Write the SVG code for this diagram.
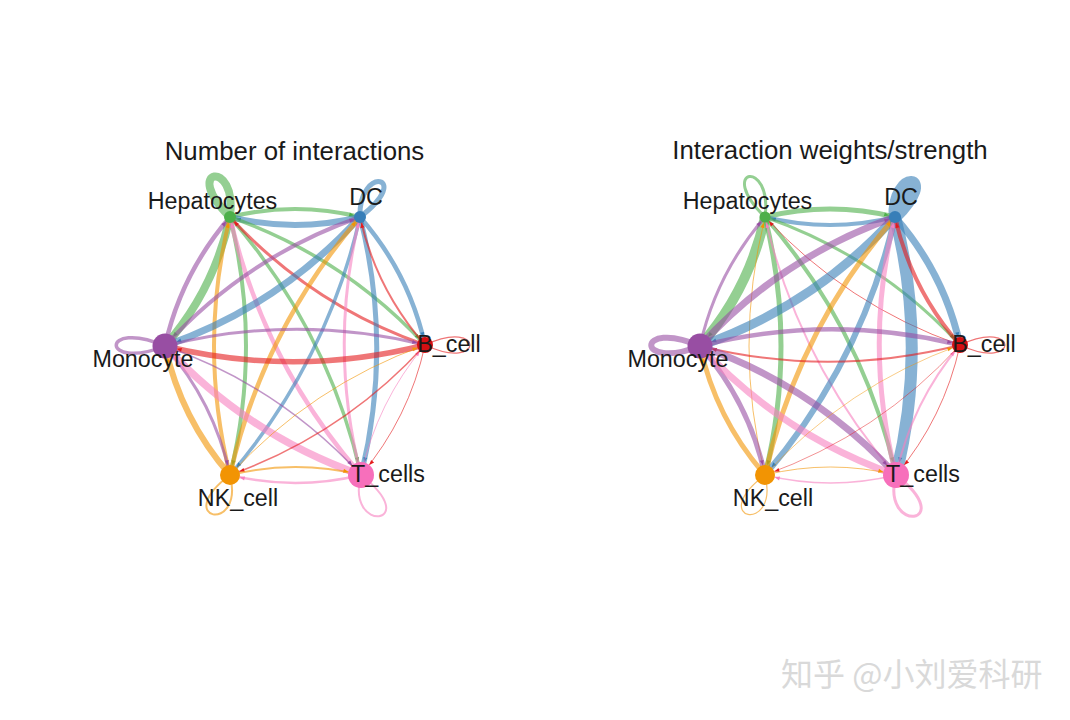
<svg xmlns="http://www.w3.org/2000/svg" width="1070" height="720" viewBox="0 0 1070 720">
<style>
text{font-family:"Liberation Sans",Arial,sans-serif;fill:#1a1a1a}
.t{font-size:25.800px;text-anchor:middle}
.l{font-size:23.300px;text-anchor:middle}
.wm{font-family:"Noto Sans CJK SC","Noto Sans",sans-serif;font-size:32px;fill:#d9d9d9}
path.e{fill:none;stroke-opacity:.6;stroke-linecap:butt}
.g{stroke:#4DAF4A}.b{stroke:#377EB8}.r{stroke:#E41A1C}.o{stroke:#F29403}.p{stroke:#F781BF}.m{stroke:#984EA3}
marker{overflow:visible}
.fg{fill:#4DAF4A}.fb{fill:#377EB8}.fr{fill:#E41A1C}.fo{fill:#F29403}.fp{fill:#F781BF}.fm{fill:#984EA3}
</style>
<defs>
<path id="ah" d="M-5,-2L0,0L-5,2Z"/>
<marker id="g6" orient="auto" markerUnits="userSpaceOnUse" markerWidth="1" markerHeight="1" refX="6" refY="0"><use href="#ah" class="fg"/></marker>
<marker id="b6" orient="auto" markerUnits="userSpaceOnUse" markerWidth="1" markerHeight="1" refX="6" refY="0"><use href="#ah" class="fb"/></marker>
<marker id="r6" orient="auto" markerUnits="userSpaceOnUse" markerWidth="1" markerHeight="1" refX="6" refY="0"><use href="#ah" class="fr"/></marker>
<marker id="o6" orient="auto" markerUnits="userSpaceOnUse" markerWidth="1" markerHeight="1" refX="6" refY="0"><use href="#ah" class="fo"/></marker>
<marker id="p6" orient="auto" markerUnits="userSpaceOnUse" markerWidth="1" markerHeight="1" refX="6" refY="0"><use href="#ah" class="fp"/></marker>
<marker id="m6" orient="auto" markerUnits="userSpaceOnUse" markerWidth="1" markerHeight="1" refX="6" refY="0"><use href="#ah" class="fm"/></marker>
<marker id="g8" orient="auto" markerUnits="userSpaceOnUse" markerWidth="1" markerHeight="1" refX="8" refY="0"><use href="#ah" class="fg"/></marker>
<marker id="b8" orient="auto" markerUnits="userSpaceOnUse" markerWidth="1" markerHeight="1" refX="8" refY="0"><use href="#ah" class="fb"/></marker>
<marker id="o8" orient="auto" markerUnits="userSpaceOnUse" markerWidth="1" markerHeight="1" refX="8" refY="0"><use href="#ah" class="fo"/></marker>
<marker id="p8" orient="auto" markerUnits="userSpaceOnUse" markerWidth="1" markerHeight="1" refX="8" refY="0"><use href="#ah" class="fp"/></marker>
<marker id="m8" orient="auto" markerUnits="userSpaceOnUse" markerWidth="1" markerHeight="1" refX="8" refY="0"><use href="#ah" class="fm"/></marker>
<marker id="g13" orient="auto" markerUnits="userSpaceOnUse" markerWidth="1" markerHeight="1" refX="13" refY="0"><use href="#ah" class="fg"/></marker>
<marker id="b13" orient="auto" markerUnits="userSpaceOnUse" markerWidth="1" markerHeight="1" refX="13" refY="0"><use href="#ah" class="fb"/></marker>
<marker id="r13" orient="auto" markerUnits="userSpaceOnUse" markerWidth="1" markerHeight="1" refX="13" refY="0"><use href="#ah" class="fr"/></marker>
<marker id="o13" orient="auto" markerUnits="userSpaceOnUse" markerWidth="1" markerHeight="1" refX="13" refY="0"><use href="#ah" class="fo"/></marker>
<marker id="m13" orient="auto" markerUnits="userSpaceOnUse" markerWidth="1" markerHeight="1" refX="13" refY="0"><use href="#ah" class="fm"/></marker>
<marker id="g10" orient="auto" markerUnits="userSpaceOnUse" markerWidth="1" markerHeight="1" refX="10" refY="0"><use href="#ah" class="fg"/></marker>
<marker id="b10" orient="auto" markerUnits="userSpaceOnUse" markerWidth="1" markerHeight="1" refX="10" refY="0"><use href="#ah" class="fb"/></marker>
<marker id="r10" orient="auto" markerUnits="userSpaceOnUse" markerWidth="1" markerHeight="1" refX="10" refY="0"><use href="#ah" class="fr"/></marker>
<marker id="p10" orient="auto" markerUnits="userSpaceOnUse" markerWidth="1" markerHeight="1" refX="10" refY="0"><use href="#ah" class="fp"/></marker>
<marker id="m10" orient="auto" markerUnits="userSpaceOnUse" markerWidth="1" markerHeight="1" refX="10" refY="0"><use href="#ah" class="fm"/></marker>
<marker id="g12" orient="auto" markerUnits="userSpaceOnUse" markerWidth="1" markerHeight="1" refX="12" refY="0"><use href="#ah" class="fg"/></marker>
<marker id="b12" orient="auto" markerUnits="userSpaceOnUse" markerWidth="1" markerHeight="1" refX="12" refY="0"><use href="#ah" class="fb"/></marker>
<marker id="r12" orient="auto" markerUnits="userSpaceOnUse" markerWidth="1" markerHeight="1" refX="12" refY="0"><use href="#ah" class="fr"/></marker>
<marker id="o12" orient="auto" markerUnits="userSpaceOnUse" markerWidth="1" markerHeight="1" refX="12" refY="0"><use href="#ah" class="fo"/></marker>
<marker id="p12" orient="auto" markerUnits="userSpaceOnUse" markerWidth="1" markerHeight="1" refX="12" refY="0"><use href="#ah" class="fp"/></marker>
</defs>
<rect width="1070" height="720" fill="#fff"/>

<text class="t" x="294.500" y="160">Number of interactions</text>
<g id="connectors-left">
<path class="e g" stroke-width="8" d="M230,217C180,168 238,158 230,217"/>
<path class="e b" stroke-width="5" d="M360,217C358,165 415,175 360,217"/>
<path class="e m" stroke-width="3.500" d="M165,346C100,318 100,372 165,346"/>
<path class="e r" stroke-width="1.200" d="M425,345C485,317 485,373 425,345"/>
<path class="e p" stroke-width="2" d="M361,475C345,535 425,525 361,475"/>
<path class="e o" stroke-width="2" d="M230,475C170,520 245,535 230,475"/>
<path class="e g" stroke-width="4" marker-end="url(#g6)" d="M230,217Q295,201 360,217"/>
<path class="e b" stroke-width="6" marker-end="url(#b6)" d="M360,217Q295,233 230,217"/>
<path class="e g" stroke-width="8" marker-end="url(#g12)" d="M230,217Q214,290 165,346"/>
<path class="e m" stroke-width="4.500" marker-end="url(#m6)" d="M165,346Q181,274 230,217"/>
<path class="e g" stroke-width="4" marker-end="url(#g10)" d="M230,217Q262,346 230,475"/>
<path class="e o" stroke-width="4" marker-end="url(#o6)" d="M230,475Q198,346 230,217"/>
<path class="e g" stroke-width="3.500" marker-end="url(#g13)" d="M230,217Q328,330 361,475"/>
<path class="e p" stroke-width="4.500" marker-end="url(#p6)" d="M361,475Q263,362 230,217"/>
<path class="e g" stroke-width="3.500" marker-end="url(#g8)" d="M230,217Q344,257 425,345"/>
<path class="e r" stroke-width="3" marker-end="url(#r6)" d="M425,345Q311,305 230,217"/>
<path class="e b" stroke-width="7" marker-end="url(#b12)" d="M360,217Q279,306 165,346"/>
<path class="e m" stroke-width="4" marker-end="url(#m6)" d="M165,346Q246,257 360,217"/>
<path class="e b" stroke-width="3.500" marker-end="url(#b10)" d="M360,217Q327,362 230,475"/>
<path class="e o" stroke-width="4.500" marker-end="url(#o6)" d="M230,475Q263,330 360,217"/>
<path class="e b" stroke-width="5" marker-end="url(#b13)" d="M360,217Q393,346 361,475"/>
<path class="e p" stroke-width="3" marker-end="url(#p6)" d="M361,475Q328,346 360,217"/>
<path class="e b" stroke-width="4.500" marker-end="url(#b8)" d="M360,217Q409,273 425,345"/>
<path class="e r" stroke-width="2" marker-end="url(#r6)" d="M425,345Q376,289 360,217"/>
<path class="e m" stroke-width="3" marker-end="url(#m8)" d="M165,346Q295,313 425,345"/>
<path class="e r" stroke-width="5.500" marker-end="url(#r12)" d="M425,345Q295,378 165,346"/>
<path class="e m" stroke-width="3" marker-end="url(#m10)" d="M165,346Q214,402 230,475"/>
<path class="e o" stroke-width="6" marker-end="url(#o12)" d="M230,475Q181,419 165,346"/>
<path class="e m" stroke-width="1.500" marker-end="url(#m13)" d="M165,346Q279,386 361,475"/>
<path class="e p" stroke-width="7.500" marker-end="url(#p12)" d="M361,475Q247,435 165,346"/>
<path class="e r" stroke-width="1" marker-end="url(#r13)" d="M425,345Q409,418 361,475"/>
<path class="e p" stroke-width="1" marker-end="url(#p8)" d="M361,475Q377,402 425,345"/>
<path class="e r" stroke-width="1.500" marker-end="url(#r10)" d="M425,345Q344,434 230,475"/>
<path class="e o" stroke-width="1" marker-end="url(#o8)" d="M230,475Q311,386 425,345"/>
<path class="e o" stroke-width="2" marker-end="url(#o13)" d="M230,475Q295.500,459 361,475"/>
<path class="e p" stroke-width="2.500" marker-end="url(#p10)" d="M361,475Q295.500,491 230,475"/>
</g>
<g id="Hepatocytes-left"><circle cx="230" cy="217" r="6" fill="#4DAF4A"/><text class="l" x="212.500" y="209">Hepatocytes</text></g>
<g id="DC-left"><circle cx="360" cy="217" r="6" fill="#377EB8"/><text class="l" x="366" y="205">DC</text></g>
<g id="B_cell-left"><circle cx="425" cy="345" r="8" fill="#D40F12"/><text class="l" x="449" y="352">B_cell</text></g>
<g id="T_cells-left"><circle cx="361" cy="475" r="13" fill="#F76FBB"/><text class="l" x="388" y="482">T_cells</text></g>
<g id="NK_cell-left"><circle cx="230" cy="475" r="10" fill="#F29403"/><text class="l" x="238" y="506">NK_cell</text></g>
<g id="Monocyte-left"><circle cx="165" cy="346" r="12.500" fill="#984EA3"/><text class="l" x="143" y="367">Monocyte</text></g>

<text class="t" x="830" y="159">Interaction weights/strength</text>
<g id="connectors-right" transform="translate(535,0)">
<path class="e g" stroke-width="3" d="M230,217C180,168 238,158 230,217"/>
<path class="e b" stroke-width="13" d="M360,217C358,170 405,172 360,217"/>
<path class="e m" stroke-width="6" d="M165,346C100,318 100,372 165,346"/>
<path class="e r" stroke-width="1.200" d="M425,345C485,317 485,373 425,345"/>
<path class="e p" stroke-width="3" d="M361,475C345,535 425,525 361,475"/>
<path class="e o" stroke-width="1.200" d="M230,475C170,520 245,535 230,475"/>
<path class="e g" stroke-width="5" marker-end="url(#g6)" d="M230,217Q295,201 360,217"/>
<path class="e b" stroke-width="4" marker-end="url(#b6)" d="M360,217Q295,233 230,217"/>
<path class="e g" stroke-width="10" marker-end="url(#g12)" d="M230,217Q214,290 165,346"/>
<path class="e m" stroke-width="3" marker-end="url(#m6)" d="M165,346Q181,274 230,217"/>
<path class="e g" stroke-width="5" marker-end="url(#g10)" d="M230,217Q262,346 230,475"/>
<path class="e o" stroke-width="1" marker-end="url(#o6)" d="M230,475Q198,346 230,217"/>
<path class="e g" stroke-width="4" marker-end="url(#g13)" d="M230,217Q328,330 361,475"/>
<path class="e p" stroke-width="2" marker-end="url(#p6)" d="M361,475Q263,362 230,217"/>
<path class="e g" stroke-width="3" marker-end="url(#g8)" d="M230,217Q344,257 425,345"/>
<path class="e r" stroke-width="1" marker-end="url(#r6)" d="M425,345Q311,305 230,217"/>
<path class="e b" stroke-width="9" marker-end="url(#b12)" d="M360,217Q279,306 165,346"/>
<path class="e m" stroke-width="7" marker-end="url(#m6)" d="M165,346Q246,257 360,217"/>
<path class="e b" stroke-width="6" marker-end="url(#b10)" d="M360,217Q327,362 230,475"/>
<path class="e o" stroke-width="5" marker-end="url(#o6)" d="M230,475Q263,330 360,217"/>
<path class="e b" stroke-width="12" marker-end="url(#b13)" d="M360,217Q393,346 361,475"/>
<path class="e p" stroke-width="5" marker-end="url(#p6)" d="M361,475Q328,346 360,217"/>
<path class="e b" stroke-width="7" marker-end="url(#b8)" d="M360,217Q409,273 425,345"/>
<path class="e r" stroke-width="4" marker-end="url(#r6)" d="M425,345Q376,289 360,217"/>
<path class="e m" stroke-width="4.500" marker-end="url(#m8)" d="M165,346Q295,313 425,345"/>
<path class="e r" stroke-width="2" marker-end="url(#r12)" d="M425,345Q295,378 165,346"/>
<path class="e m" stroke-width="5" marker-end="url(#m10)" d="M165,346Q214,402 230,475"/>
<path class="e o" stroke-width="5" marker-end="url(#o12)" d="M230,475Q181,419 165,346"/>
<path class="e m" stroke-width="7" marker-end="url(#m13)" d="M165,346Q279,386 361,475"/>
<path class="e p" stroke-width="7" marker-end="url(#p12)" d="M361,475Q247,435 165,346"/>
<path class="e r" stroke-width="1" marker-end="url(#r13)" d="M425,345Q409,418 361,475"/>
<path class="e p" stroke-width="2" marker-end="url(#p8)" d="M361,475Q377,402 425,345"/>
<path class="e r" stroke-width=".8" marker-end="url(#r10)" d="M425,345Q344,434 230,475"/>
<path class="e o" stroke-width=".8" marker-end="url(#o8)" d="M230,475Q311,386 425,345"/>
<path class="e o" stroke-width="1" marker-end="url(#o13)" d="M230,475Q295.500,459 361,475"/>
<path class="e p" stroke-width="1.500" marker-end="url(#p10)" d="M361,475Q295.500,491 230,475"/>
</g>
<g id="Hepatocytes-right"><circle cx="765" cy="217" r="5.500" fill="#4DAF4A"/><text class="l" x="747.500" y="209">Hepatocytes</text></g>
<g id="DC-right"><circle cx="895" cy="217" r="6" fill="#377EB8"/><text class="l" x="901" y="205">DC</text></g>
<g id="B_cell-right"><circle cx="960" cy="345" r="8" fill="#D40F12"/><text class="l" x="984" y="352">B_cell</text></g>
<g id="T_cells-right"><circle cx="896" cy="475" r="13" fill="#F76FBB"/><text class="l" x="923" y="482">T_cells</text></g>
<g id="NK_cell-right"><circle cx="765" cy="475" r="10" fill="#F29403"/><text class="l" x="773" y="506">NK_cell</text></g>
<g id="Monocyte-right"><circle cx="700" cy="346" r="12.500" fill="#984EA3"/><text class="l" x="678" y="367">Monocyte</text></g>

<text class="wm" x="781" y="686">知乎 @小刘爱科研</text>
</svg>
